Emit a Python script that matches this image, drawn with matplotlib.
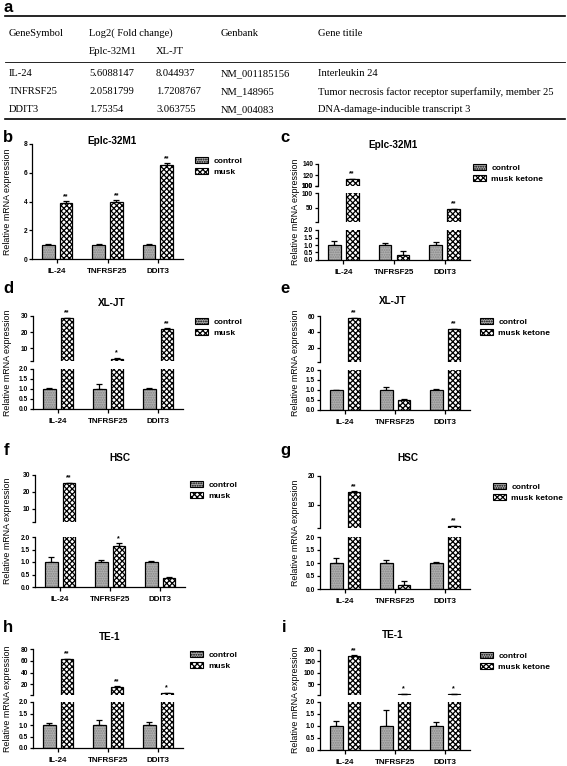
#-------------------------------------------------------------------------------
# Gene table + qPCR bar panels (broken y axes, Prism look)
#-------------------------------------------------------------------------------
import numpy as np
import matplotlib
matplotlib.use('Agg')
import matplotlib.pyplot as plt
from matplotlib.patches import Patch
from matplotlib.lines import Line2D

#-------------------------------------------------------------------------------
# Data
#-------------------------------------------------------------------------------
table_header = ['GeneSymbol', 'Log2( Fold change)', 'Genbank', 'Gene titile']
table_sub = ['Eplc-32M1', 'XL-JT']
table_genes = ['IL-24', 'TNFRSF25', 'DDIT3']
table_eplc = ['5.6088147', '2.0581799', '1.75354']
table_xljt = ['8.044937', '1.7208767', '3.063755']
table_genbank = ['NM_001185156', 'NM_148965', 'NM_004083']
table_title = ['Interleukin 24',
               'Tumor necrosis factor receptor superfamily, member 25',
               'DNA-damage-inducible transcript 3']

genes = ['IL-24', 'TNFRSF25', 'DDIT3']

b_ctrl = [1.0, 1.0, 1.0];   b_ctrl_err = [0.05, 0.04, 0.04]
b_musk = [3.9, 3.95, 6.55]; b_musk_err = [0.12, 0.12, 0.1]
b_sig = ['**', '**', '**']

c_ctrl = [1.0, 1.0, 1.0];   c_ctrl_err = [0.25, 0.15, 0.2]
c_musk = [112, 0.3, 45];    c_musk_err = [1.5, 0.28, 1.0]
c_sig = ['**', '', '**']

d_ctrl = [1.0, 1.0, 1.0];   d_ctrl_err = [0.05, 0.25, 0.04]
d_musk = [28.5, 3.5, 22];   d_musk_err = [0.4, 0.4, 0.3]
d_sig = ['**', '*', '**']

e_ctrl = [1.0, 1.0, 1.0];   e_ctrl_err = [0.02, 0.15, 0.05]
e_musk = [57, 0.52, 43];    e_musk_err = [0.5, 0.03, 0.5]
e_sig = ['**', '', '**']

f_ctrl = [1.0, 1.0, 1.0];   f_ctrl_err = [0.2, 0.1, 0.05]
f_musk = [25, 1.65, 0.38];  f_musk_err = [0.3, 0.1, 0.04]
f_sig = ['**', '*', '']

g_ctrl = [1.0, 1.0, 1.0];   g_ctrl_err = [0.2, 0.1, 0.03]
g_musk = [14.5, 0.15, 2.6]; g_musk_err = [0.2, 0.15, 0.1]
g_sig = ['**', '', '**']

h_ctrl = [1.0, 1.0, 1.0];   h_ctrl_err = [0.1, 0.2, 0.15]
h_musk = [63, 16, 5];       h_musk_err = [0.8, 0.8, 0.5]
h_sig = ['**', '**', '*']

i_ctrl = [1.0, 1.0, 1.0];   i_ctrl_err = [0.2, 0.65, 0.18]
i_musk = [175, 5, 5];       i_musk_err = [1.0, 1.0, 1.0]
i_sig = ['**', '*', '*']

#-------------------------------------------------------------------------------
# Figure setup
#-------------------------------------------------------------------------------
plt.rcParams['font.family'] = ['Liberation Sans', 'DejaVu Sans']
plt.rcParams['hatch.linewidth'] = 0.9
W, H = 567, 766
fig = plt.figure(figsize=(W / 100, H / 100), dpi=100)

CTRL_FACE = '#b0b0b0'
CTRL_HATCH = '#858585'
CTRL_PAT = '.......'
MUSK_PAT = 'xxxxxx'


def px_axes(x0, x1, ytop, ybot):
    return fig.add_axes([x0 / W, 1 - ybot / H, (x1 - x0) / W, (ybot - ytop) / H])


def fig_text(x, y, s, **kw):
    fig.text(x / W, 1 - y / H, s, **kw)


#-------------------------------------------------------------------------------
# Panel a - the table
#-------------------------------------------------------------------------------
fig_text(3, 8, 'a', fontsize=12, fontweight='bold', va='center')
tkw = dict(fontsize=7.6, family=['Liberation Serif', 'DejaVu Serif'], va='center')
col_x = [9, 89, 156, 221, 318]
for y, lw in [(16, 1.2), (62, 0.6), (119, 1.2)]:
    fig.add_artist(Line2D([5 / W, 565 / W], [1 - y / H, 1 - y / H], color='black', lw=lw))
fig_text(col_x[0], 33, table_header[0], **tkw)
fig_text(col_x[1], 33, table_header[1], **tkw)
fig_text(col_x[3], 33, table_header[2], **tkw)
fig_text(col_x[4], 33, table_header[3], **tkw)
fig_text(col_x[1], 52, table_sub[0], **tkw)
fig_text(col_x[2], 52, table_sub[1], **tkw)
for k in range(3):
    y = 74 + k * 18
    fig_text(col_x[0], y, table_genes[k], **tkw)
    fig_text(col_x[1], y, table_eplc[k], **tkw)
    fig_text(col_x[2], y, table_xljt[k], **tkw)
    fig_text(col_x[3], y, table_genbank[k], **tkw)
    fig_text(col_x[4], y, table_title[k], **tkw)

#-------------------------------------------------------------------------------
# Bar panel helper
#-------------------------------------------------------------------------------
BW = 0.25
OFF = 0.175


def draw_group(ax, xpos, vals, errs, face, pat, hatch_col, ylo, bottom_seg):
    xpos = np.asarray(xpos, float)
    vals = np.asarray(vals, float)
    errs = np.asarray(errs, float)
    # upper segments only get the bars / error bars that reach them
    bar_m = np.ones(len(vals), bool) if bottom_seg else (vals > ylo)
    err_m = np.ones(len(vals), bool) if bottom_seg else (vals + errs > ylo)
    if bar_m.any():
        # hatch pass (grey hatch for control), then a black outline on top
        ax.bar(xpos[bar_m], vals[bar_m], BW, color=face, hatch=pat, edgecolor=hatch_col,
               linewidth=0, zorder=2)
        ax.bar(xpos[bar_m], vals[bar_m], BW, fill=False, edgecolor='black',
               linewidth=0.9, zorder=3)
    if err_m.any():
        ax.errorbar(xpos[err_m], vals[err_m], yerr=[np.zeros(err_m.sum()), errs[err_m]],
                    fmt='none', ecolor='black', elinewidth=0.9, capsize=2.5,
                    capthick=0.9, zorder=1)


def bar_panel(letter, title, ctrl, ctrl_err, musk, musk_err, sig, label2,
              xs, segments, title_xy, letter_xy, leg_xy, ylab_x):
    x = np.arange(len(genes))
    for n, (ylo, yhi, ticks, ptop, pbot) in enumerate(segments):
        ax = px_axes(xs[0], xs[1], ptop, pbot)
        bottom_seg = (n == len(segments) - 1)
        draw_group(ax, x - OFF, ctrl, ctrl_err, CTRL_FACE, CTRL_PAT, CTRL_HATCH, ylo, bottom_seg)
        draw_group(ax, x + OFF, musk, musk_err, 'white', MUSK_PAT, 'black', ylo, bottom_seg)
        for k in range(3):
            top = musk[k] + musk_err[k]
            if sig[k] and ylo <= top <= yhi:
                ax.annotate(sig[k], (x[k] + OFF, top), xytext=(0, 1), textcoords='offset points',
                            ha='center', va='bottom', fontsize=5, fontweight='bold')
        ax.set_xlim(-0.5, 2.5)
        ax.set_ylim(ylo, yhi)
        ax.spines['top'].set_visible(False)
        ax.spines['right'].set_visible(False)
        ax.spines['left'].set_linewidth(0.9)
        if bottom_seg and yhi <= 2:
            ax.set_yticks(ticks)
            ax.set_yticklabels(['%.1f' % t for t in ticks])
        elif bottom_seg:
            ax.set_yticks(ticks)
            ax.set_yticklabels(['%d' % t for t in ticks])
        else:
            ax.set_yticks([ylo] + ticks)
            ax.set_yticklabels([''] + ['%d' % t for t in ticks])
        ax.tick_params(axis='y', length=2.5, width=0.9, pad=1, labelsize=4.8)
        for t in ax.get_yticklabels():
            t.set_fontweight('bold')
        if bottom_seg:
            ax.spines['bottom'].set_linewidth(0.9)
            ax.set_xticks(x)
            ax.set_xticklabels(genes, fontsize=5.8, fontweight='bold')
            ax.tick_params(axis='x', length=3, width=0.9, pad=3.5)
        else:
            ax.spines['bottom'].set_visible(False)
            ax.set_xticks([])
    fig_text(letter_xy[0], letter_xy[1], letter, fontsize=12, fontweight='bold', va='center')
    fig_text(title_xy[0], title_xy[1], title, fontsize=7.2, fontweight='bold',
             ha='center', va='center')
    ymid = (segments[0][3] + segments[-1][4]) / 2
    fig_text(ylab_x, ymid, 'Relative mRNA expression', fontsize=6.4, rotation=90,
             ha='center', va='center')
    handles = [Patch(facecolor=CTRL_FACE, hatch=CTRL_PAT, edgecolor='black', linewidth=0.8),
               Patch(facecolor='white', hatch=MUSK_PAT, edgecolor='black', linewidth=0.8)]
    fig.legend(handles, ['control', label2], loc='upper left',
               bbox_to_anchor=(leg_xy[0] / W, 1 - leg_xy[1] / H), frameon=False,
               prop={'size': 6, 'weight': 'bold'}, handlelength=1.6, handleheight=0.75,
               handletextpad=0.6, labelspacing=0.35, borderpad=0, borderaxespad=0)


LOW = [0, 0.5, 1.0, 1.5, 2.0]

bar_panel('b', 'Eplc-32M1', b_ctrl, b_ctrl_err, b_musk, b_musk_err, b_sig, 'musk',
          (32, 183), [(0, 8, [0, 2, 4, 6, 8], 144, 259)],
          (112, 141), (3, 138), (195, 157), 8)
bar_panel('c', 'Eplc-32M1', c_ctrl, c_ctrl_err, c_musk, c_musk_err, c_sig, 'musk ketone',
          (318, 470), [(100, 140, [100, 120, 140], 164, 186),
                       (2, 100, [50, 100], 193, 222),
                       (0, 2, LOW, 230, 260)],
          (393, 145), (280, 138), (473, 164), 296)
bar_panel('d', 'XL-JT', d_ctrl, d_ctrl_err, d_musk, d_musk_err, d_sig, 'musk',
          (33, 183), [(2, 30, [10, 20, 30], 316, 361), (0, 2, LOW, 369, 409)],
          (112, 303), (3, 289), (195, 318), 8)
bar_panel('e', 'XL-JT', e_ctrl, e_ctrl_err, e_musk, e_musk_err, e_sig, 'musk ketone',
          (320, 470), [(2, 60, [20, 40, 60], 316, 362), (0, 2, LOW, 370, 410)],
          (393, 301), (280, 289), (480, 318), 296)
bar_panel('f', 'HSC', f_ctrl, f_ctrl_err, f_musk, f_musk_err, f_sig, 'musk',
          (35, 185), [(2, 30, [10, 20, 30], 475, 522), (0, 2, LOW, 537, 587)],
          (120, 458), (4, 450), (190, 481), 8)
bar_panel('g', 'HSC', g_ctrl, g_ctrl_err, g_musk, g_musk_err, g_sig, 'musk ketone',
          (320, 470), [(2, 20, [10, 20], 476, 528), (0, 2, LOW, 537, 589)],
          (408, 458), (280, 450), (493, 483), 296)
bar_panel('h', 'TE-1', h_ctrl, h_ctrl_err, h_musk, h_musk_err, h_sig, 'musk',
          (33, 183), [(2, 80, [20, 40, 60, 80], 649, 695), (0, 2, LOW, 702, 748)],
          (110, 637), (3, 627), (190, 651), 8)
bar_panel('i', 'TE-1', i_ctrl, i_ctrl_err, i_musk, i_musk_err, i_sig, 'musk ketone',
          (320, 470), [(2, 200, [50, 100, 150, 200], 650, 695), (0, 2, LOW, 702, 750)],
          (393, 635), (282, 627), (480, 652), 296)

fig.savefig('out.png', dpi=100)
